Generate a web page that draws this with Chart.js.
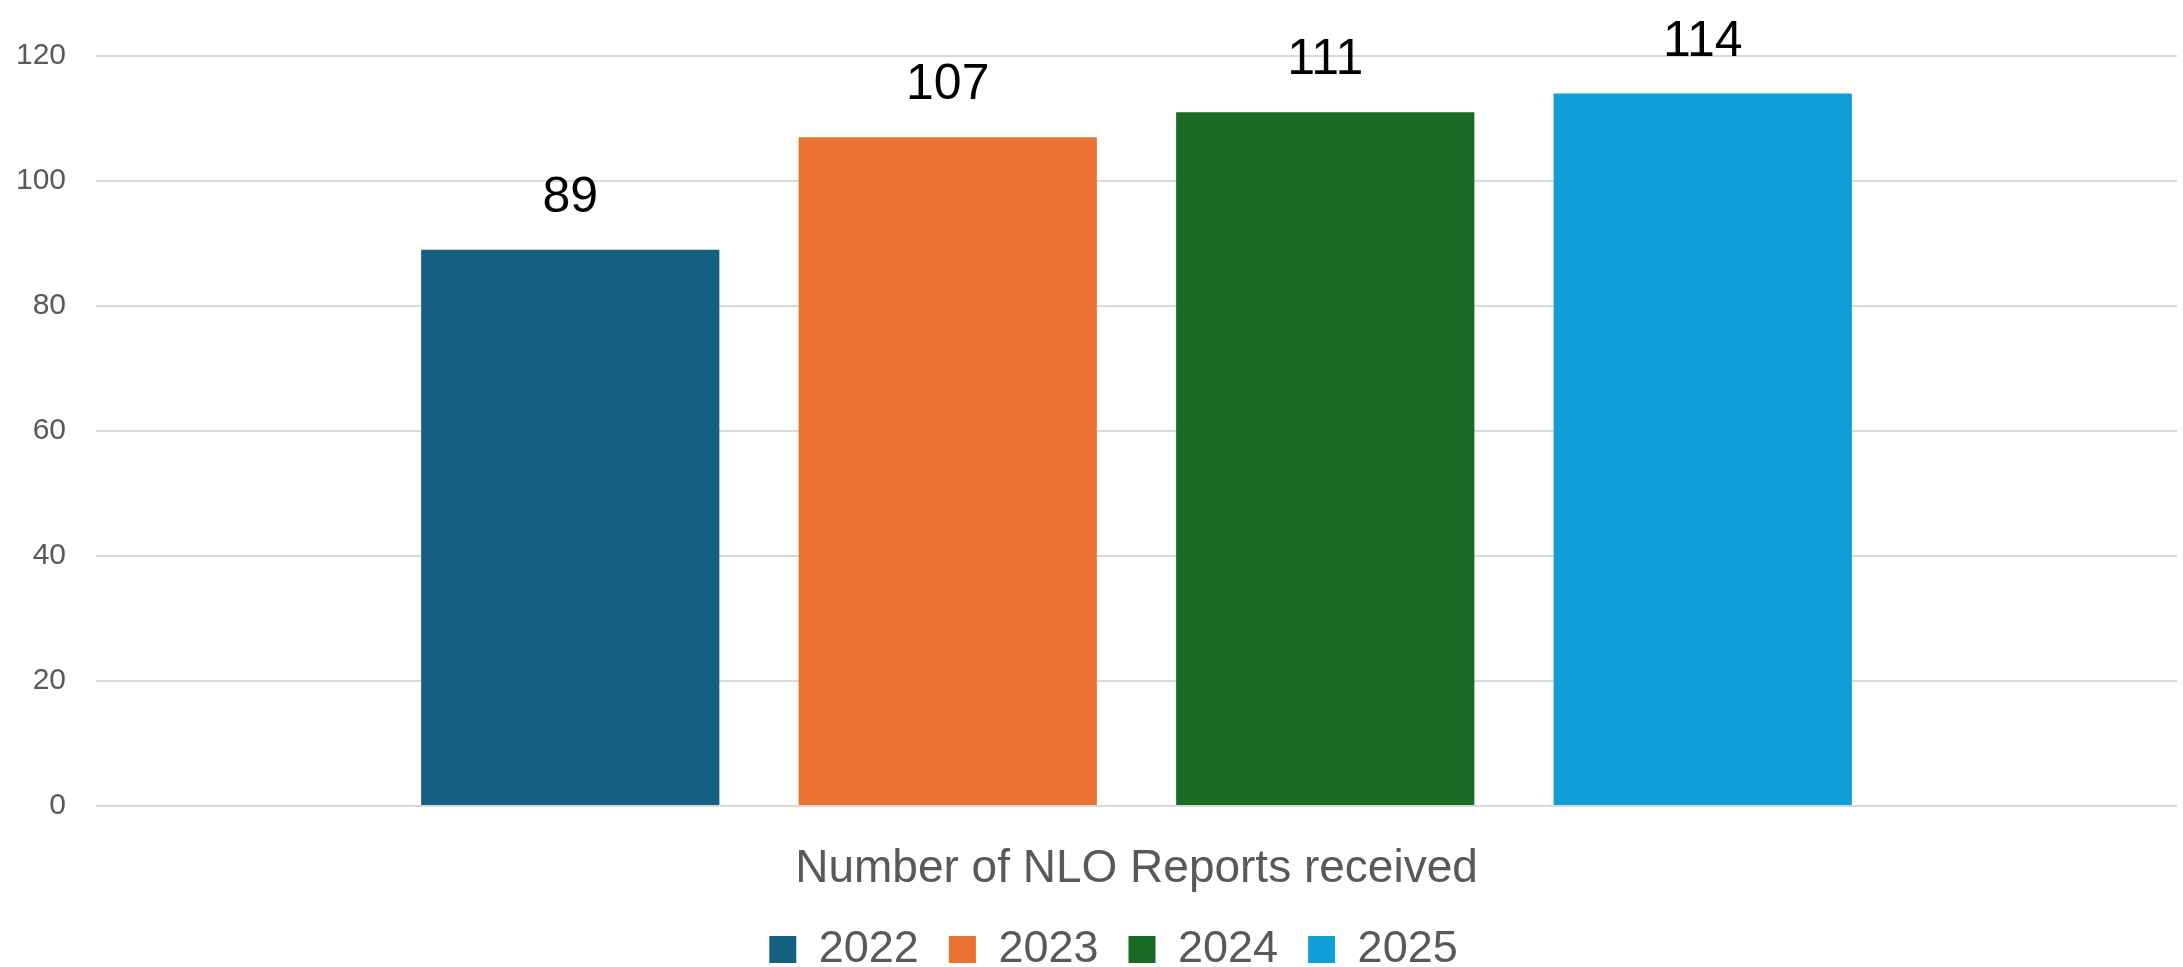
<!DOCTYPE html>
<html>
<head>
<meta charset="utf-8">
<script src="https://cdn.jsdelivr.net/npm/chart.js@4.4.1/dist/chart.umd.min.js"></script>
<style>
  html, body { margin: 0; padding: 0; background: #ffffff; overflow: hidden; }
  canvas { display: block; }
</style>
</head>
<body>
<canvas id="chart" width="2183" height="967"></canvas>
<script>
// ---- data ----
const categories = ["Number of NLO Reports received"];
const seriesNames = ["2022", "2023", "2024", "2025"];
const values2022 = [89];
const values2023 = [107];
const values2024 = [111];
const values2025 = [114];
const yTicks = [0, 20, 40, 60, 80, 100, 120];

const seriesValues = [values2022, values2023, values2024, values2025];
const seriesColors = ["#156082", "#E97132", "#196B24", "#0F9ED5"];

const FONT = "'Liberation Sans', Arial, sans-serif";
const GRAY = "#595959";

const valueLabels = {
  id: "valueLabels",
  afterDatasetsDraw(chart) {
    const ctx = chart.ctx;
    ctx.save();
    ctx.font = "50px " + FONT;
    ctx.fillStyle = "#000000";
    ctx.textAlign = "center";
    ctx.textBaseline = "alphabetic";
    chart.data.datasets.forEach((ds, i) => {
      const meta = chart.getDatasetMeta(i);
      meta.data.forEach((bar, j) => {
        ctx.fillText(String(ds.data[j]), bar.x, bar.y - 38);
      });
    });
    ctx.restore();
  }
};

// nudge the legend box slightly to the right, as in the original
const legendShift = {
  id: "legendShift",
  afterLayout(chart) {
    if (chart.legend) {
      chart.legend.left += 25;
      chart.legend.right += 25;
    }
  }
};

new Chart(document.getElementById("chart"), {
  type: "bar",
  data: {
    labels: categories,
    datasets: seriesNames.map((name, i) => ({
      label: name,
      data: seriesValues[i],
      backgroundColor: seriesColors[i],
      borderWidth: 0,
      barPercentage: 0.79,
      categoryPercentage: 0.7256
    }))
  },
  options: {
    responsive: false,
    devicePixelRatio: 1,
    animation: false,
    layout: { padding: { top: 56, left: 0, right: 6, bottom: -15 } },
    plugins: {
      tooltip: { enabled: false },
      title: { display: false },
      legend: {
        display: true,
        position: "bottom",
        align: "center",
        labels: {
          boxWidth: 27,
          boxHeight: 27,
          padding: 30,
          color: GRAY,
          font: { family: FONT, size: 45 }
        }
      }
    },
    scales: {
      x: {
        grid: { display: false, drawTicks: false },
        border: { display: false },
        ticks: {
          color: GRAY,
          padding: 36,
          font: { family: FONT, size: 46 }
        },
        afterFit(scale) { scale.height = 91; }
      },
      y: {
        min: yTicks[0],
        max: yTicks[yTicks.length - 1],
        afterBuildTicks(scale) { scale.ticks = yTicks.map(v => ({ value: v })); },
        grid: { color: "#d9d9d9", lineWidth: 2, drawTicks: false },
        border: { display: false },
        ticks: {
          color: GRAY,
          padding: 30,
          font: { family: FONT, size: 30 }
        },
        afterFit(scale) { scale.width = 96; }
      }
    }
  },
  plugins: [valueLabels, legendShift]
});
</script>
</body>
</html>
